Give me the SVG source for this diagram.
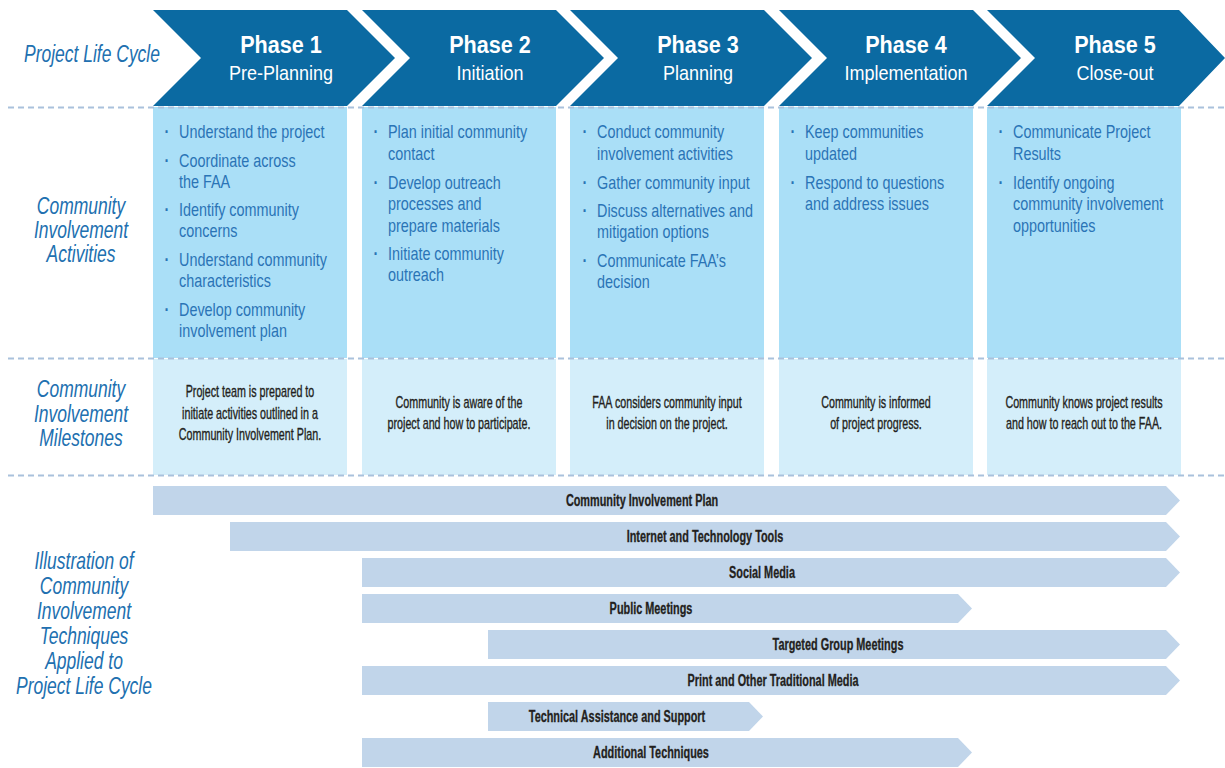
<svg xmlns="http://www.w3.org/2000/svg" width="1225" height="768" viewBox="0 0 1225 768">
<defs>
<style>
.chev{fill:#0b6aa2}
.act{fill:#aadff7}
.mil{fill:#d4eefa}
.bar{fill:#c1d5ea}
.sep{stroke:#a9c1dc;stroke-width:2;stroke-dasharray:6 4;fill:none}
.ph{font-family:"Liberation Sans",Arial,sans-serif;font-weight:bold;font-size:24px;fill:#ffffff;text-anchor:middle}
.phs{font-family:"Liberation Sans",Arial,sans-serif;font-size:20px;fill:#ffffff;text-anchor:middle}
.lab{font-family:"Liberation Sans",Arial,sans-serif;font-style:italic;font-size:23px;fill:#2170b0;text-anchor:middle}
.bt{font-family:"Liberation Sans",Arial,sans-serif;font-size:18px;fill:#2a74b6}
.dot{font-family:"Liberation Sans",Arial,sans-serif;font-size:18px;font-weight:bold;fill:#2a74b6}
.ms{font-family:"Liberation Sans",Arial,sans-serif;font-size:16px;fill:#231f20;stroke:#231f20;stroke-width:0.35;text-anchor:middle}
.bl{font-family:"Liberation Sans",Arial,sans-serif;font-weight:bold;font-size:16px;fill:#231f20;stroke:#231f20;stroke-width:0.3;text-anchor:middle}
</style>
</defs>
<rect width="1225" height="768" fill="#ffffff"/>

<!-- Row labels -->
<g id="label-lifecycle" transform="translate(92,0) scale(0.76,1)"><text class="lab" x="0" y="62">Project Life Cycle</text></g>
<g id="label-activities" transform="translate(81,0) scale(0.76,1)">
<text class="lab" x="0" y="214">Community</text>
<text class="lab" x="0" y="238">Involvement</text>
<text class="lab" x="0" y="262">Activities</text>
</g>
<g id="label-milestones" transform="translate(81,0) scale(0.76,1)">
<text class="lab" x="0" y="397">Community</text>
<text class="lab" x="0" y="422">Involvement</text>
<text class="lab" x="0" y="446">Milestones</text>
</g>
<g id="label-techniques" transform="translate(84,0) scale(0.76,1)">
<text class="lab" x="0" y="569">Illustration of</text>
<text class="lab" x="0" y="594">Community</text>
<text class="lab" x="0" y="619">Involvement</text>
<text class="lab" x="0" y="644">Techniques</text>
<text class="lab" x="0" y="669">Applied to</text>
<text class="lab" x="0" y="694">Project Life Cycle</text>
</g>

<!-- Activity boxes -->
<g id="activity-boxes">
<rect class="act" x="153" y="107" width="194" height="251"/>
<rect class="act" x="362" y="107" width="194" height="251"/>
<rect class="act" x="570" y="107" width="194" height="251"/>
<rect class="act" x="779" y="107" width="194" height="251"/>
<rect class="act" x="987" y="107" width="194" height="251"/>
</g>
<!-- Milestone boxes -->
<g id="milestone-boxes">
<rect class="mil" x="153" y="359" width="194" height="116"/>
<rect class="mil" x="362" y="359" width="194" height="116"/>
<rect class="mil" x="570" y="359" width="194" height="116"/>
<rect class="mil" x="779" y="359" width="194" height="116"/>
<rect class="mil" x="987" y="359" width="194" height="116"/>
</g>

<!-- Phase chevrons -->
<g id="phase1">
<polygon class="chev" points="153,10 347,10 395,58 347,106 153,106 201,58"/>
<g transform="translate(281,0) scale(0.9,1)"><text class="ph" x="0" y="53">Phase 1</text><text class="phs" x="0" y="80">Pre-Planning</text></g>
</g>
<g id="phase2">
<polygon class="chev" points="362,10 556,10 604,58 556,106 362,106 410,58"/>
<g transform="translate(490,0) scale(0.9,1)"><text class="ph" x="0" y="53">Phase 2</text><text class="phs" x="0" y="80">Initiation</text></g>
</g>
<g id="phase3">
<polygon class="chev" points="570,10 764,10 812,58 764,106 570,106 618,58"/>
<g transform="translate(698,0) scale(0.9,1)"><text class="ph" x="0" y="53">Phase 3</text><text class="phs" x="0" y="80">Planning</text></g>
</g>
<g id="phase4">
<polygon class="chev" points="779,10 973,10 1021,58 973,106 779,106 827,58"/>
<g transform="translate(906,0) scale(0.9,1)"><text class="ph" x="0" y="53">Phase 4</text><text class="phs" x="0" y="80">Implementation</text></g>
</g>
<g id="phase5">
<polygon class="chev" points="987,10 1179,10 1225,58 1179,106 987,106 1035,58"/>
<g transform="translate(1115,0) scale(0.9,1)"><text class="ph" x="0" y="53">Phase 5</text><text class="phs" x="0" y="80">Close-out</text></g>
</g>

<!-- Separators -->
<g id="connectors">
<line class="sep" x1="8" y1="107.5" x2="1225" y2="107.5"/>
<line class="sep" x1="8" y1="358.5" x2="1225" y2="358.5"/>
<line class="sep" x1="8" y1="475.5" x2="1225" y2="475.5"/>
</g>

<!-- Activity texts -->
<g id="activities1" transform="translate(179,0) scale(0.8,1)">
<text class="dot" x="-18" y="138">·</text><text class="bt" x="0" y="138">Understand the project</text>
<text class="dot" x="-18" y="167">·</text><text class="bt" x="0" y="167">Coordinate across</text>
<text class="bt" x="0" y="188">the FAA</text>
<text class="dot" x="-18" y="216">·</text><text class="bt" x="0" y="216">Identify community</text>
<text class="bt" x="0" y="237">concerns</text>
<text class="dot" x="-18" y="266">·</text><text class="bt" x="0" y="266">Understand community</text>
<text class="bt" x="0" y="287">characteristics</text>
<text class="dot" x="-18" y="316">·</text><text class="bt" x="0" y="316">Develop community</text>
<text class="bt" x="0" y="337">involvement plan</text>
</g>
<g id="activities2" transform="translate(388,0) scale(0.8,1)">
<text class="dot" x="-18" y="138">·</text><text class="bt" x="0" y="138">Plan initial community</text>
<text class="bt" x="0" y="160">contact</text>
<text class="dot" x="-18" y="189">·</text><text class="bt" x="0" y="189">Develop outreach</text>
<text class="bt" x="0" y="210">processes and</text>
<text class="bt" x="0" y="232">prepare materials</text>
<text class="dot" x="-18" y="260">·</text><text class="bt" x="0" y="260">Initiate community</text>
<text class="bt" x="0" y="281">outreach</text>
</g>
<g id="activities3" transform="translate(597,0) scale(0.8,1)">
<text class="dot" x="-18" y="138">·</text><text class="bt" x="0" y="138">Conduct community</text>
<text class="bt" x="0" y="160">involvement activities</text>
<text class="dot" x="-18" y="189">·</text><text class="bt" x="0" y="189">Gather community input</text>
<text class="dot" x="-18" y="217">·</text><text class="bt" x="0" y="217">Discuss alternatives and</text>
<text class="bt" x="0" y="238">mitigation options</text>
<text class="dot" x="-18" y="267">·</text><text class="bt" x="0" y="267">Communicate FAA’s</text>
<text class="bt" x="0" y="288">decision</text>
</g>
<g id="activities4" transform="translate(805,0) scale(0.8,1)">
<text class="dot" x="-18" y="138">·</text><text class="bt" x="0" y="138">Keep communities</text>
<text class="bt" x="0" y="160">updated</text>
<text class="dot" x="-18" y="189">·</text><text class="bt" x="0" y="189">Respond to questions</text>
<text class="bt" x="0" y="210">and address issues</text>
</g>
<g id="activities5" transform="translate(1013,0) scale(0.8,1)">
<text class="dot" x="-18" y="138">·</text><text class="bt" x="0" y="138">Communicate Project</text>
<text class="bt" x="0" y="160">Results</text>
<text class="dot" x="-18" y="189">·</text><text class="bt" x="0" y="189">Identify ongoing</text>
<text class="bt" x="0" y="210">community involvement</text>
<text class="bt" x="0" y="232">opportunities</text>
</g>

<!-- Milestone texts -->
<g id="milestone1" transform="translate(250,0) scale(0.67,1)">
<text class="ms" x="0" y="397">Project team is prepared to</text>
<text class="ms" x="0" y="419">initiate activities outlined in a</text>
<text class="ms" x="0" y="440">Community Involvement Plan.</text>
</g>
<g id="milestone2" transform="translate(459,0) scale(0.67,1)">
<text class="ms" x="0" y="408">Community is aware of the</text>
<text class="ms" x="0" y="429">project and how to participate.</text>
</g>
<g id="milestone3" transform="translate(667,0) scale(0.67,1)">
<text class="ms" x="0" y="408">FAA considers community input</text>
<text class="ms" x="0" y="429">in decision on the project.</text>
</g>
<g id="milestone4" transform="translate(876,0) scale(0.67,1)">
<text class="ms" x="0" y="408">Community is informed</text>
<text class="ms" x="0" y="429">of project progress.</text>
</g>
<g id="milestone5" transform="translate(1084,0) scale(0.67,1)">
<text class="ms" x="0" y="408">Community knows project results</text>
<text class="ms" x="0" y="429">and how to reach out to the FAA.</text>
</g>

<!-- Technique bars -->
<g id="bar-cip">
<polygon class="bar" points="153,486 1166,486 1180,500.5 1166,515 153,515"/>
<g transform="translate(642,0) scale(0.68,1)"><text class="bl" x="0" y="506">Community Involvement Plan</text></g>
</g>
<g id="bar-internet">
<polygon class="bar" points="230,522 1166,522 1180,536.5 1166,551 230,551"/>
<g transform="translate(705,0) scale(0.68,1)"><text class="bl" x="0" y="542">Internet and Technology Tools</text></g>
</g>
<g id="bar-social">
<polygon class="bar" points="362,558 1166,558 1180,572.5 1166,587 362,587"/>
<g transform="translate(762,0) scale(0.68,1)"><text class="bl" x="0" y="578">Social Media</text></g>
</g>
<g id="bar-public">
<polygon class="bar" points="362,594 958,594 972,608.5 958,623 362,623"/>
<g transform="translate(651,0) scale(0.68,1)"><text class="bl" x="0" y="614">Public Meetings</text></g>
</g>
<g id="bar-targeted">
<polygon class="bar" points="488,630 1166,630 1180,644.5 1166,659 488,659"/>
<g transform="translate(838,0) scale(0.68,1)"><text class="bl" x="0" y="650">Targeted Group Meetings</text></g>
</g>
<g id="bar-print">
<polygon class="bar" points="362,666 1166,666 1180,680.5 1166,695 362,695"/>
<g transform="translate(773,0) scale(0.68,1)"><text class="bl" x="0" y="686">Print and Other Traditional Media</text></g>
</g>
<g id="bar-technical">
<polygon class="bar" points="488,702 749,702 763,716.5 749,731 488,731"/>
<g transform="translate(617,0) scale(0.68,1)"><text class="bl" x="0" y="722">Technical Assistance and Support</text></g>
</g>
<g id="bar-additional">
<polygon class="bar" points="362,738 958,738 972,752.5 958,767 362,767"/>
<g transform="translate(651,0) scale(0.68,1)"><text class="bl" x="0" y="758">Additional Techniques</text></g>
</g>
</svg>
